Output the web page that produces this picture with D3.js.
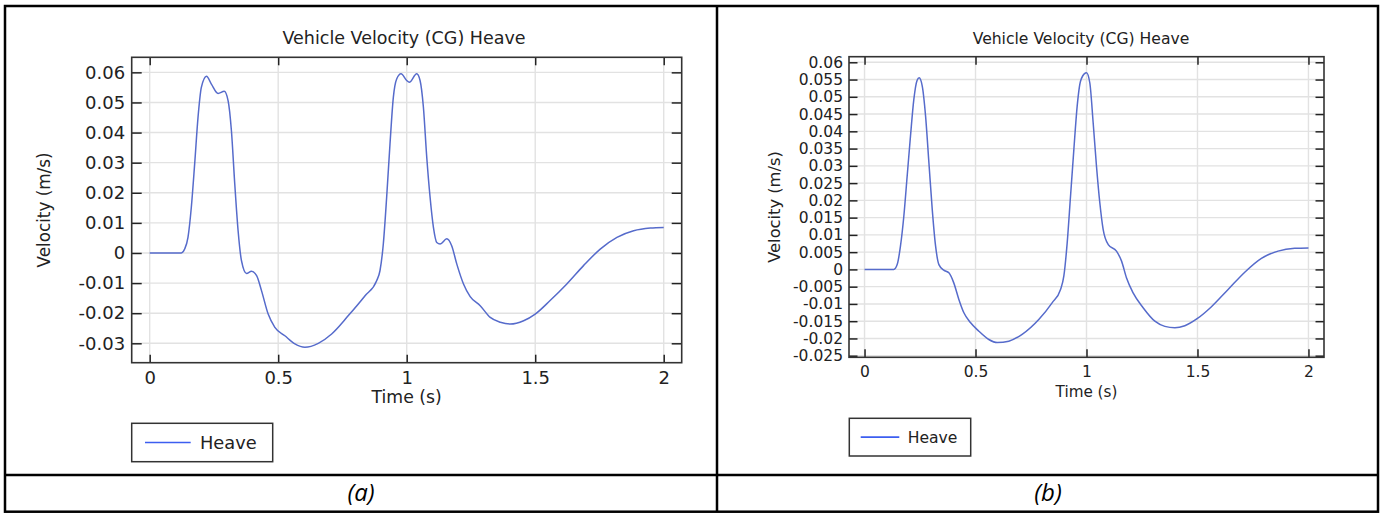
<!DOCTYPE html>
<html>
<head>
<meta charset="utf-8">
<script src="https://cdn.jsdelivr.net/npm/d3@7"></script>
<style>
  html, body { margin: 0; padding: 0; background: #fff; }
  svg { display: block; }
  text { font-family: "DejaVu Sans", sans-serif; fill: #222; }
  .caption { font-family: "Open Sans", sans-serif; font-style: italic; fill: #000; }
</style>
</head>
<body>
<svg id="fig" width="1383" height="513"></svg>
<script>
// Heave velocity of the vehicle centre of gravity, case (a)
const timeA = [0, 0.123, 0.136, 0.149, 0.162, 0.175, 0.188, 0.201, 0.221, 0.240, 0.266, 0.290, 0.305,
  0.318, 0.331, 0.344, 0.357, 0.377, 0.396, 0.416, 0.435, 0.461, 0.487, 0.526, 0.565, 0.604, 0.656,
  0.708, 0.773, 0.838, 0.883, 0.896, 0.909, 0.922, 0.935, 0.948, 0.961, 0.978, 1.0, 1.010, 1.039,
  1.052, 1.065, 1.078, 1.091, 1.104, 1.117, 1.130, 1.156, 1.175, 1.195, 1.221, 1.247, 1.286, 1.325,
  1.364, 1.403, 1.455, 1.5, 1.558, 1.623, 1.688, 1.753, 1.818, 1.883, 1.948, 2.0];
const heaveA = [0, 0, 0.0013, 0.0052, 0.0152, 0.0296, 0.045, 0.055, 0.0587, 0.0561, 0.053, 0.0537, 0.0506,
  0.0406, 0.0229, 0.0074, -0.0025, -0.0068, -0.0061, -0.0075, -0.0125, -0.0203, -0.0247, -0.0275, -0.0302, -0.0313, -0.030,
  -0.0269, -0.0208, -0.0142, -0.0092, -0.0059, 0.003, 0.0185, 0.0362, 0.0517, 0.0578, 0.0595, 0.0573, 0.0567, 0.0595,
  0.0573, 0.0484, 0.0318, 0.0185, 0.0085, 0.0035, 0.003, 0.0047, 0.0024, -0.0037, -0.0103, -0.0145, -0.0175, -0.0214,
  -0.023, -0.0236, -0.0225, -0.0203, -0.0158, -0.0103, -0.0042, 0.0013, 0.0052, 0.0074, 0.0083, 0.0085];

// Heave velocity of the vehicle centre of gravity, case (b)
const timeB = [0, 0.132, 0.147, 0.162, 0.177, 0.192, 0.207, 0.222, 0.237, 0.246, 0.260, 0.275, 0.290,
  0.305, 0.320, 0.335, 0.357, 0.380, 0.402, 0.425, 0.447, 0.477, 0.515, 0.560, 0.598, 0.650, 0.710,
  0.785, 0.845, 0.883, 0.898, 0.913, 0.928, 0.943, 0.958, 0.973, 0.995, 1.0, 1.015, 1.03, 1.045,
  1.06, 1.075, 1.098, 1.135, 1.158, 1.18, 1.21, 1.255, 1.308, 1.353, 1.398, 1.443, 1.5, 1.563,
  1.638, 1.713, 1.788, 1.863, 1.938, 2.0];
const heaveB = [0, 0, 0.0014, 0.0068, 0.0154, 0.027, 0.0386, 0.0492, 0.0548, 0.0555, 0.0531, 0.0444, 0.0309,
  0.0174, 0.0068, 0.0014, -0.0002, -0.001, -0.0039, -0.0087, -0.0125, -0.0154, -0.0179, -0.0203, -0.0212, -0.0208, -0.0188,
  -0.0145, -0.0097, -0.0058, -0.0019, 0.0077, 0.0212, 0.0347, 0.0473, 0.0545, 0.0569, 0.057, 0.054, 0.0425, 0.0299,
  0.0193, 0.0116, 0.0072, 0.0053, 0.0024, -0.0024, -0.0068, -0.0111, -0.015, -0.0165, -0.0169, -0.0163, -0.0142, -0.0108,
  -0.0058, -0.0008, 0.0032, 0.0053, 0.0061, 0.0062];

// Axis ticks
const xTicks = [0, 0.5, 1, 1.5, 2];
const yTicksA = [-0.03, -0.02, -0.01, 0, 0.01, 0.02, 0.03, 0.04, 0.05, 0.06];
const yTicksB = [-0.025, -0.02, -0.015, -0.01, -0.005, 0, 0.005, 0.01, 0.015, 0.02, 0.025,
  0.03, 0.035, 0.04, 0.045, 0.05, 0.055, 0.06];

// Text
const chartTitle = "Vehicle Velocity (CG) Heave";
const xAxisTitle = "Time (s)";
const yAxisTitle = "Velocity (m/s)";
const seriesName = "Heave";
const captions = ["(a)", "(b)"];

const svg = d3.select("#fig");

// Surrounding table: two cells with plots, one caption row underneath
const table = svg.append("g").attr("fill", "none").attr("stroke", "#000").attr("stroke-width", 2.5);
table.append("rect").attr("x", 5).attr("y", 6).attr("width", 1373).attr("height", 505.7);
table.append("line").attr("x1", 717).attr("x2", 717).attr("y1", 6).attr("y2", 511.7);
table.append("line").attr("x1", 5).attr("x2", 1378).attr("y1", 475).attr("y2", 475);

svg.append("text").attr("class", "caption").attr("x", 361).attr("y", 501)
  .attr("text-anchor", "middle").attr("font-size", 24).text(captions[0]);
svg.append("text").attr("class", "caption").attr("x", 1048).attr("y", 501)
  .attr("text-anchor", "middle").attr("font-size", 24).text(captions[1]);

function drawPanel(cfg, times, values, yTicks) {
  const g = svg.append("g");
  const x = d3.scaleLinear().domain([-0.07, 2.07]).range([cfg.left, cfg.right]);
  const y = d3.scaleLinear().domain(cfg.yDomain).range([cfg.bottom, cfg.top]);
  const w = cfg.right - cfg.left, h = cfg.bottom - cfg.top;

  // grid
  const grid = g.append("g").attr("stroke", "#e2e2e2").attr("stroke-width", 1.4);
  grid.selectAll("line.gx").data(xTicks).join("line")
    .attr("x1", d => x(d)).attr("x2", d => x(d)).attr("y1", cfg.top).attr("y2", cfg.bottom);
  grid.selectAll("line.gy").data(yTicks).join("line")
    .attr("x1", cfg.left).attr("x2", cfg.right).attr("y1", d => y(d)).attr("y2", d => y(d));

  // curve
  const clipId = "clip" + cfg.id;
  g.append("clipPath").attr("id", clipId).append("rect")
    .attr("x", cfg.left).attr("y", cfg.top).attr("width", w).attr("height", h);
  const line = d3.line().x((d, i) => x(times[i])).y(d => y(d)).curve(d3.curveMonotoneX);
  g.append("path").datum(values).attr("clip-path", `url(#${clipId})`)
    .attr("fill", "none").attr("stroke", "#566bcb").attr("stroke-width", 1.5)
    .attr("d", line);

  // axes with inward ticks on all four sides, labels on left and bottom
  const fmt = d => String(d);
  g.append("g").attr("transform", `translate(0,${cfg.bottom})`)
    .call(d3.axisBottom(x).tickValues(xTicks).tickSizeInner(-cfg.xTick).tickSizeOuter(0).tickPadding(cfg.xPad).tickFormat(fmt))
    .call(a => a.select(".domain").remove())
    .call(a => a.selectAll("text").attr("font-size", cfg.tickFont).attr("font-family", "DejaVu Sans").attr("fill", "#222"));
  g.append("g").attr("transform", `translate(0,${cfg.top})`)
    .call(d3.axisTop(x).tickValues(xTicks).tickSizeInner(-cfg.xTick).tickSizeOuter(0).tickFormat(""))
    .call(a => a.select(".domain").remove());
  g.append("g").attr("transform", `translate(${cfg.left},0)`)
    .call(d3.axisLeft(y).tickValues(yTicks).tickSizeInner(-cfg.yTick).tickSizeOuter(0).tickPadding(cfg.yPad).tickFormat(fmt))
    .call(a => a.select(".domain").remove())
    .call(a => a.selectAll("text").attr("font-size", cfg.tickFont).attr("font-family", "DejaVu Sans").attr("fill", "#222"));
  g.append("g").attr("transform", `translate(${cfg.right},0)`)
    .call(d3.axisRight(y).tickValues(yTicks).tickSizeInner(-cfg.yTick).tickSizeOuter(0).tickFormat(""))
    .call(a => a.select(".domain").remove());
  g.selectAll(".tick line").attr("stroke", "#222").attr("stroke-width", 1.5);

  // frame
  g.append("rect").attr("x", cfg.left).attr("y", cfg.top).attr("width", w).attr("height", h)
    .attr("fill", "none").attr("stroke", "#333").attr("stroke-width", 1.6);

  // titles
  g.append("text").attr("x", cfg.titleX).attr("y", cfg.titleY).attr("text-anchor", "middle")
    .attr("font-size", cfg.titleFont).text(chartTitle);
  g.append("text").attr("x", (cfg.left + cfg.right) / 2).attr("y", cfg.bottom + cfg.xTitleDy)
    .attr("text-anchor", "middle").attr("font-size", cfg.labelFont).text(xAxisTitle);
  g.append("text").attr("transform", `translate(${cfg.yTitleX},${(cfg.top + cfg.bottom) / 2}) rotate(-90)`)
    .attr("text-anchor", "middle").attr("font-size", cfg.yLabelFont).text(yAxisTitle);

  // legend
  const L = cfg.legend;
  g.append("rect").attr("x", L.x).attr("y", L.y).attr("width", L.w).attr("height", L.h)
    .attr("fill", "#fff").attr("stroke", "#333").attr("stroke-width", 1.5);
  g.append("line").attr("x1", L.x + L.lineX0).attr("x2", L.x + L.lineX1)
    .attr("y1", L.y + L.h / 2).attr("y2", L.y + L.h / 2)
    .attr("stroke", "#3c5ef0").attr("stroke-width", 1.6);
  g.append("text").attr("x", L.x + L.textX).attr("y", L.y + L.h / 2 + L.font * 0.36)
    .attr("font-size", L.font).text(seriesName);
}

drawPanel({
  id: "a", left: 131.7, right: 681.7, top: 57.3, bottom: 362.7,
  yDomain: [-0.03644, 0.065], xTick: 8, yTick: 10, xPad: 9, yPad: 6.5,
  tickFont: 18, titleFont: 17.5, labelFont: 17.3, yLabelFont: 16.8,
  titleX: 404, titleY: 44.3, xTitleDy: 40, yTitleX: 50,
  legend: { x: 131.7, y: 423.3, w: 141, h: 38.4, lineX0: 13.3, lineX1: 59, textX: 68.3, font: 17.8 }
}, timeA, heaveA, yTicksA);

drawPanel({
  id: "b", left: 849, right: 1324, top: 56.7, bottom: 357.3,
  yDomain: [-0.02546, 0.06162], xTick: 8, yTick: 8.5, xPad: 9, yPad: 6,
  tickFont: 15.5, titleFont: 15.6, labelFont: 15.2, yLabelFont: 16.3,
  titleX: 1081, titleY: 43.5, xTitleDy: 39.5, yTitleX: 780,
  legend: { x: 849.3, y: 418.3, w: 121.4, h: 37.7, lineX0: 11.4, lineX1: 50, textX: 58.4, font: 15.6 }
}, timeB, heaveB, yTicksB);
</script>
</body>
</html>
